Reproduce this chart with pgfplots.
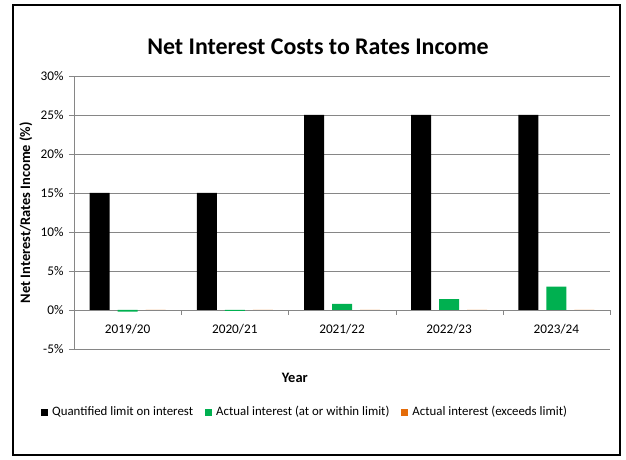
\documentclass[border=0pt]{standalone}
\usepackage{pgfplots}
\pgfplotsset{compat=1.18}
\usepackage{fontspec}
\setmainfont{Carlito}
\definecolor{xlgreen}{HTML}{00B050}
\definecolor{xlorange}{HTML}{E46C0A}
\definecolor{gridgray}{HTML}{868686}
\begin{document}
\begin{tikzpicture}
\useasboundingbox (0bp,0bp) rectangle (626bp,460bp);
\draw[line width=2bp] (13bp,5bp) rectangle (620bp,455bp);
\node[font=\bfseries\fontsize{24}{28}\selectfont] at (318bp,413bp) {Net Interest Costs to Rates Income};
\begin{axis}[
  at={(74bp,111bp)}, anchor=south west,
  scale only axis, width=536bp, height=273bp,
  xmin=-0.5, xmax=4.5, ymin=-5, ymax=30,
  axis x line=middle, axis y line=left,
  axis line style={-, gridgray},
  xtick={0,1,2,3,4},
  xticklabels={2019/20,2020/21,2021/22,2022/23,2023/24},
  minor xtick={-0.5,0.5,1.5,2.5,3.5,4.5},
  major x tick style={draw=none},
  minor x tick style={gridgray},
  minor tick length=5bp,
  ytick={-5,0,5,...,30},
  y tick style={gridgray},
  major tick length=5bp,
  tick align=outside,
  ymajorgrids, grid style={gridgray, line width=0.6bp},
  yticklabel={\pgfmathprintnumber{\tick}\%},
  /pgf/number format/assume math mode=true,
  ticklabel style={font=\fontsize{13.3}{15}\selectfont},
  xticklabel style={yshift=-6bp},
  yticklabel style={xshift=-2bp},
  ylabel={Net Interest/Rates Income (\%)},
  ylabel style={at={(axis description cs:-0.0896,0.5)}, anchor=center, font=\bfseries\fontsize{14.5}{17}\selectfont},
  xlabel={Year},
  xlabel style={at={(axis description cs:0.412,-0.106)}, anchor=center, font=\bfseries\fontsize{14.5}{17}\selectfont},
  ybar, bar width=20bp,
  legend columns=3,
  legend style={at={(axis description cs:-0.0616,-0.2308)}, anchor=west, draw=none, fill=none,
    inner xsep=0pt, inner ysep=0pt,
    font=\fontsize{12.9}{15}\selectfont,
    nodes={inner xsep=0pt},
    /tikz/every odd column/.append style={column sep=4bp},
    /tikz/every even column/.append style={column sep=12bp}},
  legend image code/.code={\fill[#1] (0bp,-3.5bp) rectangle (7bp,3.5bp);},
]
\addplot[fill=black, draw=none, bar shift=-28bp] coordinates {(0,15) (1,15) (2,25) (3,25) (4,25)};
\addplot[fill=xlgreen, draw=none, bar shift=0bp] coordinates {(0,-0.2) (1,-0.1) (2,0.8) (3,1.4) (4,3.0)};
\addplot[fill=xlorange, draw=none, bar shift=28bp] coordinates {(0,0) (1,0) (2,0) (3,0) (4,0)};
\legend{Quantified limit on interest, Actual interest (at or within limit), Actual interest (exceeds limit)}
\end{axis}
\end{tikzpicture}
\end{document}
